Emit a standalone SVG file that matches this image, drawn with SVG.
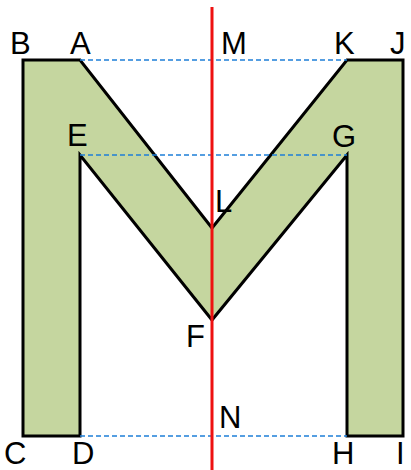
<svg xmlns="http://www.w3.org/2000/svg" width="411" height="470" viewBox="0 0 411 470">
<style>
.lbl{font-family:"Liberation Sans",Arial,sans-serif;font-size:31px;fill:#000;}
.dash{stroke:#1e7fd8;stroke-width:1.5;stroke-dasharray:5 3;fill:none;}
</style>
<rect width="411" height="470" fill="#fff"/>
<g id="shape-M">
<polygon points="23,60 80,60 212,228 347,60 403,60 403,436 347,436 347,155 212,320 80,155 80,436 23,436" fill="#c5d69f" stroke="#000" stroke-width="3" stroke-linejoin="miter"/>
</g>
<g id="connectors">
<line class="dash" x1="80" y1="60" x2="347" y2="60"/>
<line class="dash" x1="80" y1="155" x2="347" y2="155"/>
<line class="dash" x1="80" y1="436" x2="347" y2="436"/>
<line x1="212" y1="7" x2="212" y2="470" stroke="#ee1111" stroke-width="3"/>
</g>
<g id="labels">
<text class="lbl" x="10" y="54">B</text>
<text class="lbl" x="70" y="54">A</text>
<text class="lbl" x="221" y="54">M</text>
<text class="lbl" x="334" y="54">K</text>
<text class="lbl" x="390" y="54">J</text>
<text class="lbl" x="67" y="146">E</text>
<text class="lbl" x="332" y="147">G</text>
<text class="lbl" x="215" y="212">L</text>
<text class="lbl" x="186" y="347">F</text>
<text class="lbl" x="219" y="428">N</text>
<text class="lbl" x="4" y="464">C</text>
<text class="lbl" x="72" y="464">D</text>
<text class="lbl" x="332" y="464">H</text>
<text class="lbl" x="396" y="464">I</text>
</g>
</svg>
